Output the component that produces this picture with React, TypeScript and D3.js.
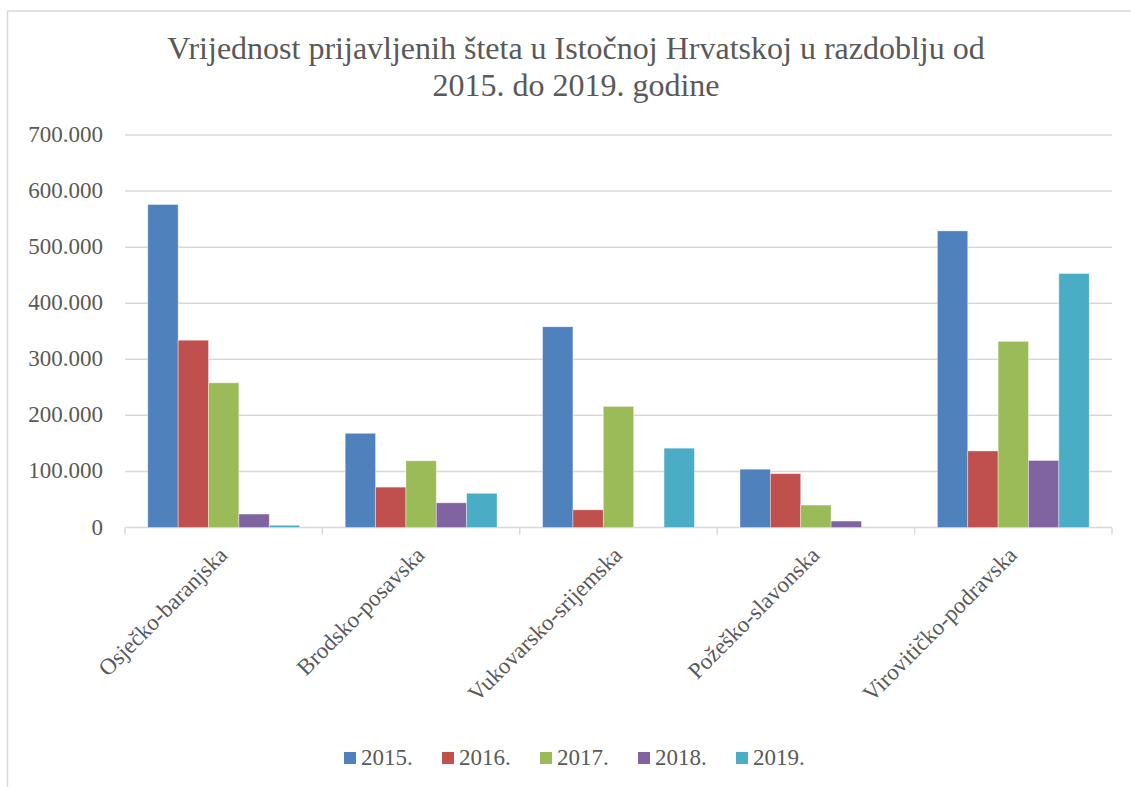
import React from "react";
import * as d3 from "d3";

const categories = [
  "Osječko-baranjska",
  "Brodsko-posavska",
  "Vukovarsko-srijemska",
  "Požeško-slavonska",
  "Virovitičko-podravska",
];
const years = ["2015.", "2016.", "2017.", "2018.", "2019."];
const colors = ["#4F81BD", "#C0504D", "#9BBB59", "#8064A2", "#4BACC6"];

// values per year, in category order
const v2015 = [576000, 168000, 358000, 104000, 529000];
const v2016 = [334000, 72000, 31500, 96000, 136500];
const v2017 = [258000, 119000, 216000, 40000, 332000];
const v2018 = [24000, 44000, 0, 11500, 119500];
const v2019 = [4000, 61000, 141500, 0, 453000];
const series = [v2015, v2016, v2017, v2018, v2019];

const yTicks = [0, 100000, 200000, 300000, 400000, 500000, 600000, 700000];

const App = () => {
  const width = 1131;
  const height = 787;
  const plotLeft = 125;
  const plotRight = 1112;
  const plotTop = 135;
  const plotBottom = 527.5;

  const textColor = "#595959";
  const gridColor = "#d9d9d9";
  const font = "'Liberation Serif', 'Times New Roman', serif";

  const x0 = d3.scaleBand().domain(categories).range([plotLeft, plotRight]).padding(0);
  // Excel-style gap width of 150%
  const barW = x0.bandwidth() / (years.length + 1.5);
  const x1 = d3
    .scaleBand()
    .domain(years)
    .range([barW * 0.75, barW * 0.75 + barW * years.length])
    .padding(0);
  const y = d3.scaleLinear().domain([0, 700000]).range([plotBottom, plotTop]);

  const fmt = (v: number) => d3.format(",")(v).replace(/,/g, ".");

  const boundaries = [...categories.map((c) => x0(c) as number), plotRight];

  return (
    <div style={{ position: "absolute", left: 0, top: 0 }}>
      <svg width={width} height={height} style={{ display: "block", background: "#fff" }}>
        {/* chart border */}
        <rect x={7.5} y={11} width={1140} height={800} fill="white" stroke={gridColor} strokeWidth={1.5} />

        {/* Title */}
        <text x={576} y={59} textAnchor="middle" fontFamily={font} fontSize={32} fill={textColor}>
          Vrijednost prijavljenih šteta u Istočnoj Hrvatskoj u razdoblju od
        </text>
        <text x={576} y={96} textAnchor="middle" fontFamily={font} fontSize={32} fill={textColor}>
          2015. do 2019. godine
        </text>

        {/* Gridlines + y labels */}
        {yTicks.map((t) => (
          <g key={t}>
            <line x1={plotLeft} x2={plotRight} y1={y(t)} y2={y(t)} stroke={gridColor} strokeWidth={1.5} />
            <text
              x={103}
              y={y(t) + 7}
              textAnchor="end"
              fontFamily={font}
              fontSize={23}
              fill={textColor}
            >
              {fmt(t)}
            </text>
          </g>
        ))}

        {/* category tick marks */}
        {boundaries.map((b, i) => (
          <line key={i} x1={b} x2={b} y1={plotBottom} y2={plotBottom + 7} stroke={gridColor} strokeWidth={1.5} />
        ))}

        {/* Bars */}
        {categories.map((c, ci) => (
          <g key={c} transform={`translate(${x0(c)},0)`}>
            {series.map((s, si) =>
              s[ci] > 0 ? (
                <rect
                  key={si}
                  x={x1(years[si])}
                  y={y(s[ci])}
                  width={x1.bandwidth()}
                  height={plotBottom - y(s[ci])}
                  fill={colors[si]}
                  stroke="#ffffff"
                  strokeOpacity={0.5}
                  strokeWidth={0.75}
                />
              ) : null
            )}
          </g>
        ))}

        {/* Category labels */}
        {categories.map((c) => {
          const cx = (x0(c) as number) + x0.bandwidth() / 2 + 5;
          const cy = plotBottom + 29;
          return (
            <text
              key={c}
              transform={`translate(${cx},${cy}) rotate(-45)`}
              textAnchor="end"
              fontFamily={font}
              fontSize={23}
              fill={textColor}
            >
              {c}
            </text>
          );
        })}

        {/* Legend */}
        {years.map((yr, i) => (
          <g key={yr} transform={`translate(${344 + i * 98},752)`}>
            <rect x={0} y={0} width={12} height={12} fill={colors[i]} />
            <text x={17} y={13} fontFamily={font} fontSize={23} fill={textColor}>
              {yr}
            </text>
          </g>
        ))}
      </svg>
    </div>
  );
};

export default App;
